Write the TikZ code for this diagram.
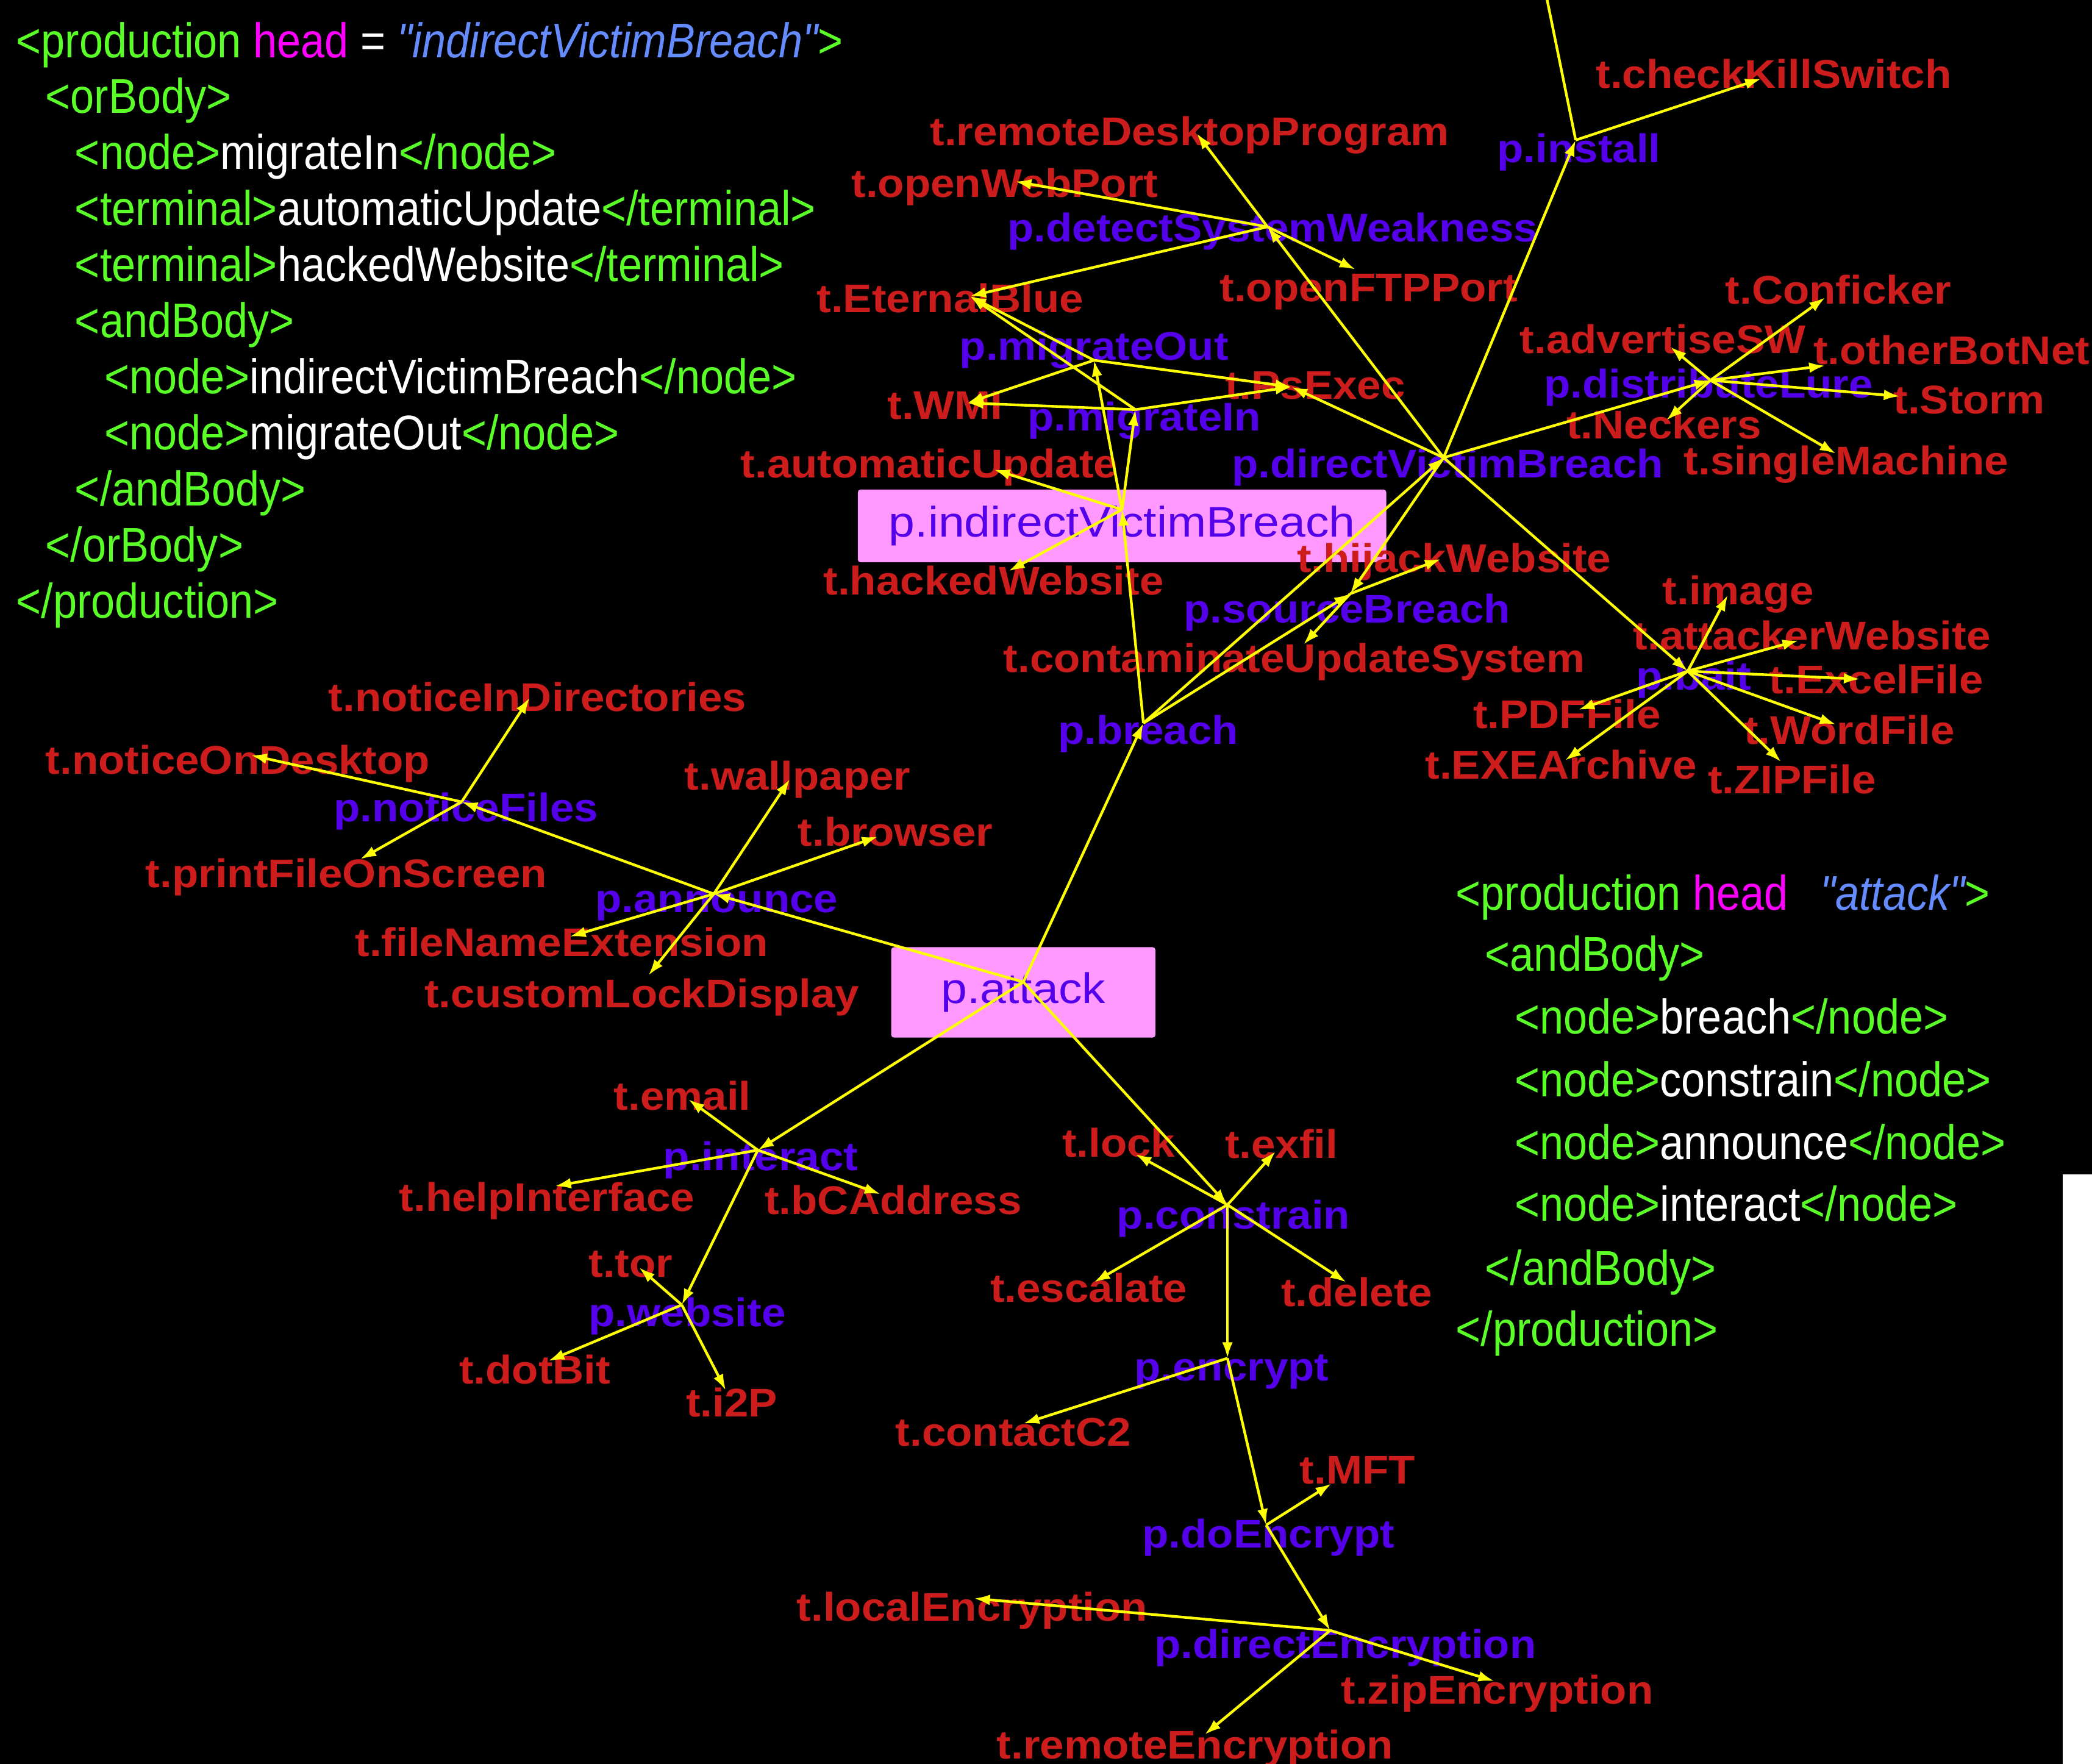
\documentclass[tikz,border=0pt]{standalone}
\usepackage{fontspec}
\setmainfont{Liberation Sans}
\newfontfamily\lblfont{Liberation Sans}[FakeStretch=1.08]
\newfontfamily\boxfont{Liberation Sans}[FakeStretch=1.1]
\newfontfamily\codefont{Liberation Sans}[FakeStretch=0.88]
\usetikzlibrary{arrows.meta}
\definecolor{tred}{RGB}{205,28,28}
\definecolor{pblue}{RGB}{85,0,235}
\definecolor{cgreen}{RGB}{90,255,40}
\definecolor{qblue}{RGB}{100,140,255}
\definecolor{hmag}{RGB}{255,0,255}
\definecolor{boxpink}{RGB}{255,153,255}
\definecolor{edgey}{RGB}{255,255,0}
\begin{document}
\begin{tikzpicture}[x=1pt,y=-1pt,
  tl/.style={anchor=base west, inner sep=0pt, text=tred, font=\lblfont\bfseries\fontsize{30}{30}\selectfont},
  pl/.style={tl, text=pblue},
  pbox/.style={fill=boxpink, rounded corners=2pt, inner sep=0pt, text=pblue, font=\boxfont\fontsize{32}{32}\selectfont},
  code/.style={anchor=base west, inner sep=0pt, text=cgreen, font=\codefont\fontsize{36.5}{36.5}\selectfont},
  edge/.style={draw=edgey, line width=2pt, -{Latex[length=12pt,width=8pt]}},
  link/.style={draw=edgey, line width=2pt},
]
\useasboundingbox (0,0) rectangle (1568,1322);
\fill[black] (0,0) rectangle (1568,1322);
\fill[white] (1546,880) rectangle (1568,1322);

% ---------- code blocks ----------
\node[code] (c1) at (12,43) {<production \textcolor{hmag}{head} \textcolor{white}{=} \textcolor{qblue}{\itshape"indirectVictimBreach"}>};
\node[code] (c2) at (34,85) {<orBody>};
\node[code] (c3) at (56,127) {<node>\textcolor{white}{migrateIn}</node>};
\node[code] (c4) at (56,169) {<terminal>\textcolor{white}{automaticUpdate}</terminal>};
\node[code] (c5) at (56,211) {<terminal>\textcolor{white}{hackedWebsite}</terminal>};
\node[code] (c6) at (56,253) {<andBody>};
\node[code] (c7) at (78,295) {<node>\textcolor{white}{indirectVictimBreach}</node>};
\node[code] (c8) at (78,337) {<node>\textcolor{white}{migrateOut}</node>};
\node[code] (c9) at (56,379) {</andBody>};
\node[code] (c10) at (34,421) {</orBody>};
\node[code] (c11) at (12,463) {</production>};

\node[code] (d1) at (1091,682) {<production \textcolor{hmag}{head}\hspace{24pt}\textcolor{qblue}{\itshape"attack"}>};
\node[code] (d2) at (1113,728) {<andBody>};
\node[code] (d3) at (1135,775) {<node>\textcolor{white}{breach}</node>};
\node[code] (d4) at (1135,822) {<node>\textcolor{white}{constrain}</node>};
\node[code] (d5) at (1135,869) {<node>\textcolor{white}{announce}</node>};
\node[code] (d6) at (1135,915) {<node>\textcolor{white}{interact}</node>};
\node[code] (d7) at (1113,963) {</andBody>};
\node[code] (d8) at (1091,1009) {</production>};

% ---------- highlighted boxes ----------
\node[pbox, minimum width=396pt, minimum height=54.5pt] (l-indirect) at (841,394.2) {p.indirectVictimBreach};
\node[pbox, minimum width=198pt, minimum height=67.7pt] (l-attack) at (767,743.8) {p.attack};

% ---------- labels ----------
\node[tl] (l-kill) at (1196,66) {t.checkKillSwitch};
\node[pl] (l-install) at (1122,122) {p.install};
\node[tl] (l-rdp) at (697,109) {t.remoteDesktopProgram};
\node[tl] (l-web) at (638,148) {t.openWebPort};
\node[pl] (l-detect) at (755,181) {p.detectSystemWeakness};
\node[tl] (l-ftp) at (914,226) {t.openFTPPort};
\node[tl] (l-eb) at (612,234) {t.EternalBlue};
\node[pl] (l-mout) at (719,270) {p.migrateOut};
\node[tl] (l-psexec) at (918,299) {t.PsExec};
\node[tl] (l-wmi) at (665,314) {t.WMI};
\node[pl] (l-min) at (770,323) {p.migrateIn};
\node[pl] (l-direct) at (923,358) {p.directVictimBreach};
\node[tl] (l-auto) at (555,358) {t.automaticUpdate};
\node[tl] (l-hacked) at (617,446) {t.hackedWebsite};
\node[tl] (l-hijack) at (972,429) {t.hijackWebsite};
\node[pl] (l-source) at (887,467) {p.sourceBreach};
\node[tl] (l-contam) at (752,504) {t.contaminateUpdateSystem};
\node[pl] (l-breach) at (793,558) {p.breach};
\node[tl] (l-conf) at (1293,228) {t.Conficker};
\node[tl] (l-adv) at (1139,265) {t.advertiseSW};
\node[tl] (l-other) at (1359,273) {t.otherBotNet};
\node[pl] (l-lure) at (1157,298) {p.distributeLure};
\node[tl] (l-storm) at (1419,310) {t.Storm};
\node[tl] (l-neck) at (1174,329) {t.Neckers};
\node[tl] (l-single) at (1262,356) {t.singleMachine};
\node[tl] (l-image) at (1246,453) {t.image};
\node[tl] (l-attw) at (1224,487) {t.attackerWebsite};
\node[pl] (l-bait) at (1226,517) {p.bait};
\node[tl] (l-excel) at (1326,520) {t.ExcelFile};
\node[tl] (l-pdf) at (1104,546) {t.PDFFile};
\node[tl] (l-word) at (1307,558) {t.WordFile};
\node[tl] (l-exe) at (1068,584) {t.EXEArchive};
\node[tl] (l-zip) at (1280,595) {t.ZIPFile};
\node[tl] (l-nid) at (246,533) {t.noticeInDirectories};
\node[tl] (l-nod) at (34,580) {t.noticeOnDesktop};
\node[pl] (l-nf) at (250,616) {p.noticeFiles};
\node[tl] (l-print) at (109,665) {t.printFileOnScreen};
\node[tl] (l-wall) at (513,592) {t.wallpaper};
\node[tl] (l-browser) at (598,634) {t.browser};
\node[pl] (l-announce) at (446,684) {p.announce};
\node[tl] (l-fne) at (266,717) {t.fileNameExtension};
\node[tl] (l-cld) at (318,755) {t.customLockDisplay};
\node[tl] (l-email) at (460,832) {t.email};
\node[pl] (l-interact) at (497,877) {p.interact};
\node[tl] (l-help) at (299,908) {t.helpInterface};
\node[tl] (l-bca) at (573,910) {t.bCAddress};
\node[tl] (l-tor) at (441,957) {t.tor};
\node[pl] (l-website) at (441,994) {p.website};
\node[tl] (l-dotbit) at (344,1037) {t.dotBit};
\node[tl] (l-i2p) at (514,1062) {t.i2P};
\node[tl] (l-lock) at (796,867) {t.lock};
\node[tl] (l-exfil) at (918,868) {t.exfil};
\node[pl] (l-constrain) at (837,921) {p.constrain};
\node[tl] (l-esc) at (742,976) {t.escalate};
\node[tl] (l-delete) at (960,979) {t.delete};
\node[pl] (l-encrypt) at (850,1035) {p.encrypt};
\node[tl] (l-c2) at (671,1084) {t.contactC2};
\node[tl] (l-mft) at (974,1112) {t.MFT};
\node[pl] (l-doenc) at (856,1160) {p.doEncrypt};
\node[tl] (l-local) at (597,1215) {t.localEncryption};
\node[pl] (l-direnc) at (865,1243) {p.directEncryption};
\node[tl] (l-zipenc) at (1005,1277) {t.zipEncryption};
\node[tl] (l-remenc) at (747,1318) {t.remoteEncryption};

% ---------- graph points ----------
\coordinate (topend) at (1159,-3);
\coordinate (install) at (1181,105);
\coordinate (kill) at (1320,59);
\coordinate (hub) at (1082,343);
\coordinate (detect) at (950,170);
\coordinate (rdp) at (897,100);
\coordinate (web) at (761,136);
\coordinate (eb) at (727,222);
\coordinate (ftp) at (1016,202);
\coordinate (mout) at (820,270);
\coordinate (min) at (851,307);
\coordinate (wmi) at (725,302);
\coordinate (psexec) at (968,290);
\coordinate (indirect) at (841,382);
\coordinate (auto) at (745,352);
\coordinate (hacked) at (756,428);
\coordinate (breach) at (857,542);
\coordinate (source) at (1012,445);
\coordinate (hijack) at (1080,419);
\coordinate (contam) at (977,483);
\coordinate (lure) at (1282,285);
\coordinate (conf) at (1368,223);
\coordinate (adv) at (1252,260);
\coordinate (other) at (1368,274);
\coordinate (storm) at (1424,297);
\coordinate (neck) at (1249,315);
\coordinate (single) at (1376,340);
\coordinate (bait) at (1265,503);
\coordinate (image) at (1295,446);
\coordinate (attw) at (1348,480);
\coordinate (excel) at (1394,509);
\coordinate (word) at (1376,543);
\coordinate (zip) at (1335,571);
\coordinate (pdf) at (1183,532);
\coordinate (exe) at (1173,570);
\coordinate (attack) at (767,736);
\coordinate (announce) at (535,670);
\coordinate (wall) at (592,584);
\coordinate (browser) at (658,627);
\coordinate (nf) at (346,601);
\coordinate (nid) at (397,523);
\coordinate (nod) at (188,566);
\coordinate (print) at (270,644);
\coordinate (fne) at (427,702);
\coordinate (cld) at (486,731);
\coordinate (interact) at (568,862);
\coordinate (email) at (516,824);
\coordinate (help) at (416,889);
\coordinate (bca) at (660,895);
\coordinate (website) at (511,978);
\coordinate (tor) at (479,950);
\coordinate (dotbit) at (411,1020);
\coordinate (i2p) at (544,1042);
\coordinate (constrain) at (920,903);
\coordinate (lock) at (851,865);
\coordinate (exfil) at (956,863);
\coordinate (esc) at (820,961);
\coordinate (delete) at (1009,961);
\coordinate (encrypt) at (920,1018);
\coordinate (c2) at (767,1067);
\coordinate (doenc) at (949,1143);
\coordinate (mft) at (998,1112);
\coordinate (direnc) at (997,1222);
\coordinate (local) at (730,1198);
\coordinate (zipenc) at (1120,1260);
\coordinate (remenc) at (903,1300);

% ---------- connectors ----------
\draw[link] (topend) -- (install);
\draw[edge] (install) -- (kill);
\draw[edge] (hub) -- (install);
\draw[edge] (hub) -- (detect);
\draw[edge] (detect) -- (rdp);
\draw[edge] (detect) -- (web);
\draw[edge] (detect) -- (eb);
\draw[edge] (detect) -- (ftp);
\draw[edge] (hub) -- (lure);
\draw[edge] (lure) -- (conf);
\draw[edge] (lure) -- (adv);
\draw[edge] (lure) -- (other);
\draw[edge] (lure) -- (storm);
\draw[edge] (lure) -- (neck);
\draw[edge] (lure) -- (single);
\draw[edge] (hub) -- (bait);
\draw[edge] (bait) -- (image);
\draw[edge] (bait) -- (attw);
\draw[edge] (bait) -- (excel);
\draw[edge] (bait) -- (word);
\draw[edge] (bait) -- (zip);
\draw[edge] (bait) -- (pdf);
\draw[edge] (bait) -- (exe);
\draw[edge] (hub) -- (psexec);
\draw[edge] (hub) -- (source);
\draw[edge] (breach) -- (hub);
\draw[edge] (breach) -- (source);
\draw[edge] (source) -- (hijack);
\draw[edge] (source) -- (contam);
\draw[edge] (breach) -- (indirect);
\draw[edge] (indirect) -- (mout);
\draw[edge] (indirect) -- (min);
\draw[edge] (indirect) -- (auto);
\draw[edge] (indirect) -- (hacked);
\draw[edge] (mout) -- (eb);
\draw[edge] (mout) -- (wmi);
\draw[edge] (mout) -- (psexec);
\draw[edge] (min) -- (eb);
\draw[edge] (min) -- (wmi);
\draw[edge] (min) -- (psexec);
\draw[edge] (attack) -- (breach);
\draw[edge] (attack) -- (announce);
\draw[edge] (attack) -- (interact);
\draw[edge] (attack) -- (constrain);
\draw[edge] (announce) -- (wall);
\draw[edge] (announce) -- (browser);
\draw[edge] (announce) -- (nf);
\draw[edge] (announce) -- (fne);
\draw[edge] (announce) -- (cld);
\draw[edge] (nf) -- (nid);
\draw[edge] (nf) -- (nod);
\draw[edge] (nf) -- (print);
\draw[edge] (interact) -- (email);
\draw[edge] (interact) -- (help);
\draw[edge] (interact) -- (bca);
\draw[edge] (interact) -- (website);
\draw[edge] (website) -- (tor);
\draw[edge] (website) -- (dotbit);
\draw[edge] (website) -- (i2p);
\draw[edge] (constrain) -- (lock);
\draw[edge] (constrain) -- (exfil);
\draw[edge] (constrain) -- (esc);
\draw[edge] (constrain) -- (delete);
\draw[edge] (constrain) -- (encrypt);
\draw[edge] (encrypt) -- (c2);
\draw[edge] (encrypt) -- (doenc);
\draw[edge] (doenc) -- (mft);
\draw[edge] (doenc) -- (direnc);
\draw[edge] (direnc) -- (local);
\draw[edge] (direnc) -- (zipenc);
\draw[edge] (direnc) -- (remenc);
\end{tikzpicture}
\end{document}
